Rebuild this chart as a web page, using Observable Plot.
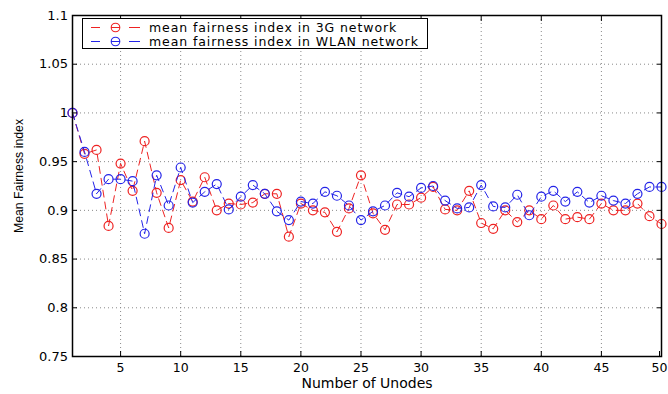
<!DOCTYPE html>
<html>
<head>
<meta charset="utf-8">
<script src="https://cdn.jsdelivr.net/npm/d3@7"></script>
<script src="https://cdn.jsdelivr.net/npm/@observablehq/plot@0.6"></script>
<style>
  html, body { margin: 0; padding: 0; background: #fff; }
  #chart { position: relative; width: 668px; height: 394px; }
  #legend { position: absolute; left: 0; top: 0; }
</style>
</head>
<body>
<div id="chart"></div>
<script>
// Number of Unodes on the x axis
const unodes = [1, 2, 3, 4, 5, 6, 7, 8, 9, 10, 11, 12, 13, 14, 15, 16, 17, 18, 19, 20,
  21, 22, 23, 24, 25, 26, 27, 28, 29, 30, 31, 32, 33, 34, 35, 36, 37, 38, 39, 40,
  41, 42, 43, 44, 45, 46, 47, 48, 49, 50];

// Mean fairness index, 3G network
const fairness3G = [1.000, 0.958, 0.962, 0.884, 0.948, 0.920, 0.971, 0.918, 0.882, 0.931,
  0.909, 0.934, 0.900, 0.907, 0.906, 0.908, 0.917, 0.917, 0.873, 0.907,
  0.900, 0.898, 0.878, 0.902, 0.936, 0.897, 0.880, 0.906, 0.906, 0.913,
  0.924, 0.901, 0.900, 0.920, 0.887, 0.881, 0.900, 0.888, 0.900, 0.891,
  0.905, 0.891, 0.893, 0.891, 0.907, 0.900, 0.900, 0.907, 0.894, 0.886];

// Mean fairness index, WLAN network
const fairnessWLAN = [1.000, 0.960, 0.917, 0.932, 0.932, 0.930, 0.876, 0.936, 0.905, 0.944,
  0.908, 0.919, 0.927, 0.901, 0.914, 0.926, 0.917, 0.899, 0.890, 0.909,
  0.907, 0.919, 0.915, 0.905, 0.890, 0.899, 0.905, 0.918, 0.914, 0.923,
  0.925, 0.910, 0.902, 0.903, 0.926, 0.904, 0.903, 0.916, 0.895, 0.914,
  0.920, 0.909, 0.919, 0.908, 0.915, 0.910, 0.907, 0.917, 0.924, 0.924];

const xTicks = [5, 10, 15, 20, 25, 30, 35, 40, 45, 50];
const yTicks = [0.75, 0.8, 0.85, 0.9, 0.95, 1, 1.05, 1.1];

const seriesNames = ["mean fairness index in 3G network", "mean fairness index in WLAN network"];
const seriesColors = ["#ee2222", "#2424e8"];

const rows3G = unodes.map((n, i) => ({n, v: fairness3G[i]}));
const rowsWLAN = unodes.map((n, i) => ({n, v: fairnessWLAN[i]}));

const dash = "7,5";
const gridStyle = {stroke: "#8a8a8a", strokeOpacity: 1, strokeWidth: 1, strokeDasharray: "1,3"};

// the last x tick label sits at the right edge, so it is nudged inward a little
const xTicksInner = xTicks.slice(0, -1);
const xTickLast = xTicks.slice(-1);

const plot = Plot.plot({
  width: 668,
  height: 394,
  marginLeft: 72,
  marginRight: 7,
  marginTop: 15,
  marginBottom: 38,
  style: {fontFamily: "DejaVu Sans, sans-serif", fontSize: "13px", background: "#fff", color: "#000"},
  x: {domain: [1, 50]},
  y: {domain: [0.75, 1.1]},
  marks: [
    Plot.gridX(xTicks, gridStyle),
    Plot.gridY(yTicks, gridStyle),
    Plot.line(rows3G, {x: "n", y: "v", stroke: seriesColors[0], strokeWidth: 1, strokeDasharray: dash}),
    Plot.dot(rows3G, {x: "n", y: "v", r: 4.5, stroke: seriesColors[0], strokeWidth: 1.2, fill: "none"}),
    Plot.line(rowsWLAN, {x: "n", y: "v", stroke: seriesColors[1], strokeWidth: 1, strokeDasharray: dash}),
    Plot.dot(rowsWLAN, {x: "n", y: "v", r: 4.5, stroke: seriesColors[1], strokeWidth: 1.2, fill: "none"}),
    Plot.frame({stroke: "#000", strokeWidth: 1.5}),
    Plot.axisX(xTicksInner, {anchor: "bottom", tickSize: -5, tickPadding: 12, fontSize: 12.5, label: null}),
    Plot.axisX(xTickLast, {anchor: "bottom", tickSize: -5, tickPadding: 12, fontSize: 12.5, dx: -2, label: null}),
    Plot.axisX(xTicks, {anchor: "top", tickSize: -5, tickFormat: () => "", label: null}),
    Plot.axisY(yTicks, {anchor: "left", tickSize: -5, tickPadding: 9.5, tickFormat: d3.format("~g"), label: null}),
    Plot.axisY(yTicks, {anchor: "right", tickSize: -5, tickFormat: () => "", label: null}),
    Plot.text(["Number of Unodes"], {frameAnchor: "bottom", dy: 27, fontSize: 14, lineAnchor: "middle"}),
    Plot.text(["Mean Fairness index"], {frameAnchor: "left", dx: -53, dy: -10, rotate: -90,
      textAnchor: "middle", lineAnchor: "middle",
      fontSize: 12.3, fontFamily: "Liberation Sans, Arial, sans-serif"})
  ]
});

const chart = document.getElementById("chart");
chart.appendChild(plot);

// Legend box in the upper-left corner of the axes
const legend = d3.select(chart).append("svg")
  .attr("id", "legend")
  .attr("width", 668).attr("height", 60)
  .style("font-family", "DejaVu Sans, sans-serif")
  .style("font-size", "12.5px")
  .style("letter-spacing", "0.9px");

legend.append("rect")
  .attr("x", 82.5).attr("y", 18.5).attr("width", 345).attr("height", 30)
  .attr("fill", "#fff").attr("stroke", "#000").attr("stroke-width", 1);

seriesNames.forEach((name, i) => {
  const cy = 27.5 + i * 14;
  const g = legend.append("g").attr("stroke", seriesColors[i]).attr("fill", "none");
  g.append("line").attr("x1", 91).attr("x2", 100).attr("y1", cy).attr("y2", cy);
  g.append("line").attr("x1", 129).attr("x2", 140).attr("y1", cy).attr("y2", cy);
  g.append("line").attr("x1", 111).attr("x2", 120).attr("y1", cy).attr("y2", cy);
  g.append("circle").attr("cx", 115.5).attr("cy", cy).attr("r", 4.3).attr("stroke-width", 1.1);
  legend.append("text")
    .attr("x", 149).attr("y", cy).attr("dy", "0.35em")
    .attr("fill", "#000")
    .text(name);
});
</script>
</body>
</html>
